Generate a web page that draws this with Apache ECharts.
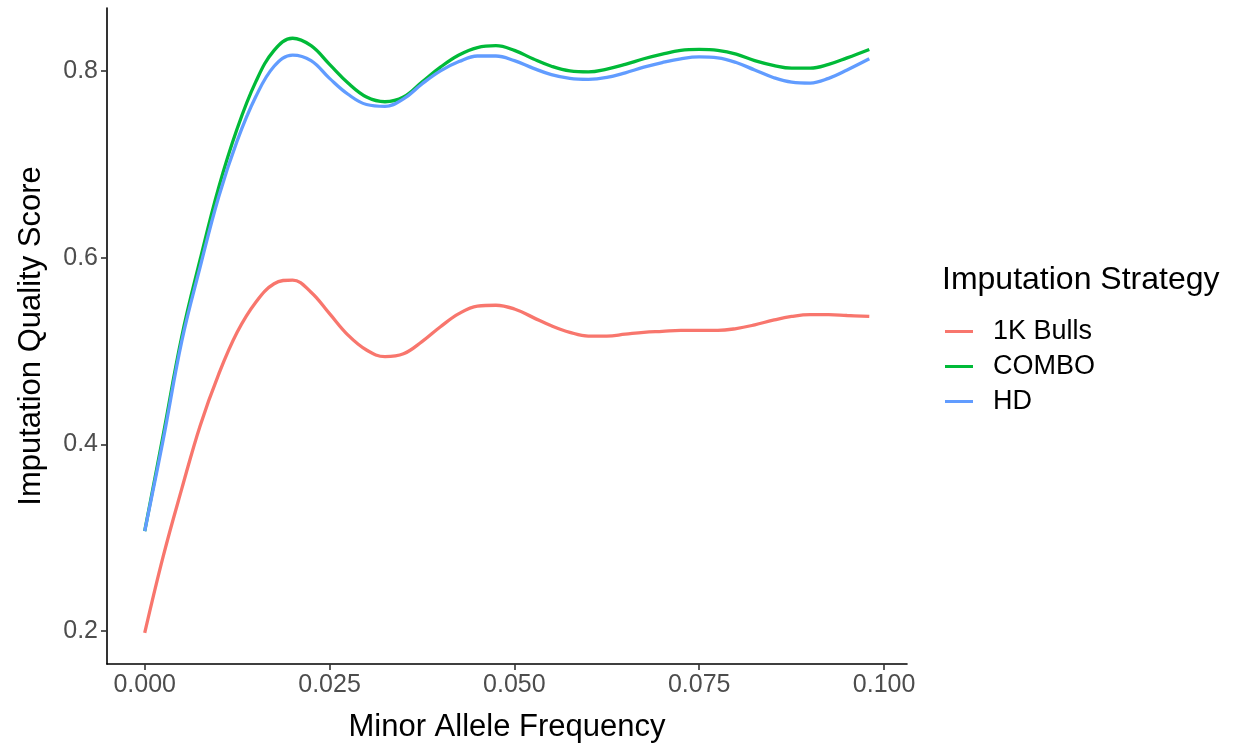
<!DOCTYPE html>
<html>
<head>
<meta charset="utf-8">
<script src="https://cdn.jsdelivr.net/npm/echarts@6/dist/echarts.min.js"></script>
<style>
  html, body { margin: 0; padding: 0; background: #fff; }
  #chart { width: 1241px; height: 748px; }
</style>
</head>
<body>
<div id="chart"></div>
<script>
// smoothed curves
var maf = [0, 0.0025, 0.005, 0.0075, 0.01, 0.0125, 0.015, 0.0175, 0.02, 0.0225,
  0.025, 0.0275, 0.03, 0.0325, 0.035, 0.0375, 0.04, 0.0425, 0.045, 0.0475,
  0.05, 0.0525, 0.055, 0.0575, 0.06, 0.0625, 0.065, 0.0675, 0.07, 0.0725,
  0.075, 0.0775, 0.08, 0.0825, 0.085, 0.0875, 0.09, 0.0925, 0.095, 0.098];
var bulls = [0.198, 0.280, 0.352, 0.420, 0.475, 0.520, 0.552, 0.572, 0.576, 0.563,
  0.540, 0.517, 0.501, 0.494, 0.497, 0.510, 0.526, 0.540, 0.548, 0.549,
  0.545, 0.536, 0.527, 0.520, 0.516, 0.516, 0.518, 0.520, 0.521, 0.522,
  0.522, 0.522, 0.524, 0.528, 0.533, 0.537, 0.539, 0.539, 0.538, 0.537];
var combo = [0.307, 0.410, 0.515, 0.598, 0.675, 0.738, 0.788, 0.822, 0.835, 0.827,
  0.807, 0.787, 0.772, 0.767, 0.772, 0.788, 0.804, 0.817, 0.825, 0.827,
  0.822, 0.813, 0.805, 0.800, 0.799, 0.802, 0.807, 0.813, 0.818, 0.822,
  0.823, 0.822, 0.818, 0.811, 0.806, 0.803, 0.803, 0.807, 0.814, 0.823];
var hd = [0.307, 0.405, 0.510, 0.590, 0.665, 0.725, 0.772, 0.805, 0.817, 0.811,
  0.792, 0.775, 0.764, 0.762, 0.770, 0.786, 0.800, 0.810, 0.816, 0.816,
  0.811, 0.803, 0.796, 0.792, 0.791, 0.793, 0.798, 0.804, 0.809, 0.813,
  0.815, 0.814, 0.809, 0.801, 0.793, 0.788, 0.787, 0.792, 0.801, 0.813];
var seriesNames = ['1K Bulls', 'COMBO', 'HD'];
var seriesColors = ['#F8766D', '#00BA38', '#619CFF'];
var xTicks = [0, 0.025, 0.05, 0.075, 0.1];
var yTicks = [0.2, 0.4, 0.6, 0.8];

function pairs(ys) {
  return maf.map(function (x, i) { return [x, ys[i]]; });
}

var chart = echarts.init(document.getElementById('chart'));
var font = 'Liberation Sans, Arial, Helvetica, sans-serif';
var allData = [bulls, combo, hd];

var option = {
  backgroundColor: '#fff',
  animation: false,
  title: {
    text: 'Imputation Strategy',
    left: 937,
    top: 259,
    textStyle: { fontFamily: font, fontSize: 32, fontWeight: 'normal', color: '#000' }
  },
  legend: {
    orient: 'vertical',
    left: 940,
    top: 309,
    icon: 'rect',
    itemWidth: 28,
    itemHeight: 3,
    itemGap: 0,
    data: seriesNames,
    textStyle: { fontFamily: font, fontSize: 27, color: '#000', lineHeight: 35, padding: [0, 0, 0, 15] }
  },
  grid: { left: 107, right: 334, top: 8, bottom: 83 },
  xAxis: {
    type: 'value',
    min: -0.0051,
    max: 0.1031,
    name: 'Minor Allele Frequency',
    nameLocation: 'middle',
    nameGap: 48,
    nameTextStyle: { fontFamily: font, fontSize: 31, color: '#000' },
    splitLine: { show: false },
    axisLine: { onZero: false, lineStyle: { color: '#000', width: 1.6 } },
    axisTick: { customValues: xTicks, length: 6, lineStyle: { color: '#333', width: 1.6 } },
    axisLabel: {
      customValues: xTicks,
      fontFamily: font, fontSize: 25, color: '#4d4d4d', margin: 9,
      formatter: function (v) { return v.toFixed(3); }
    }
  },
  yAxis: {
    type: 'value',
    min: 0.1647,
    max: 0.8674,
    name: 'Imputation Quality Score',
    nameLocation: 'middle',
    nameGap: 60,
    nameTextStyle: { fontFamily: font, fontSize: 31, color: '#000' },
    splitLine: { show: false },
    axisLine: { show: true, onZero: false, lineStyle: { color: '#000', width: 1.6 } },
    axisTick: { show: true, customValues: yTicks, length: 6, lineStyle: { color: '#333', width: 1.6 } },
    axisLabel: {
      customValues: yTicks,
      fontFamily: font, fontSize: 25, color: '#4d4d4d', margin: 9,
      formatter: function (v) { return v.toFixed(1); }
    }
  },
  series: seriesNames.map(function (name, i) {
    return {
      name: name,
      type: 'line',
      smooth: 0.4,
      showSymbol: false,
      symbol: 'none',
      color: seriesColors[i],
      lineStyle: { width: 3.3, color: seriesColors[i] },
      data: pairs(allData[i])
    };
  })
};
chart.setOption(option);
</script>
</body>
</html>
